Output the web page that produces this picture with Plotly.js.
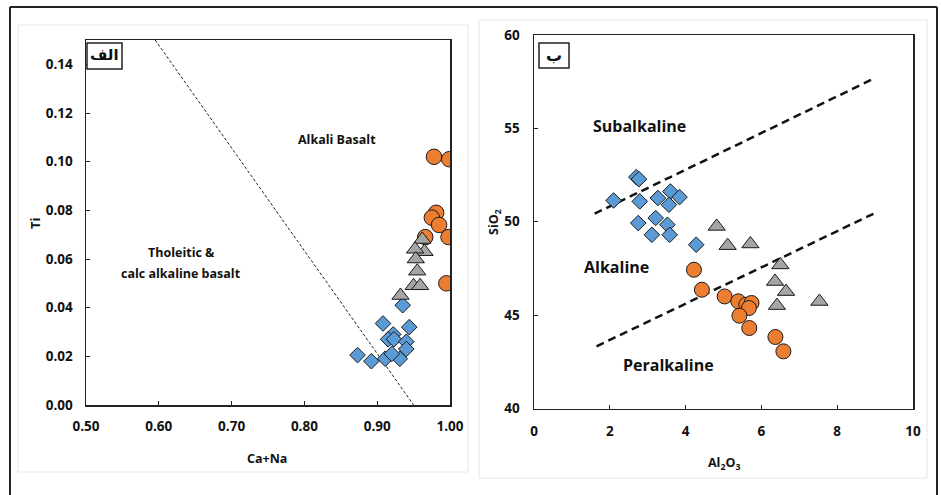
<!DOCTYPE html>
<html><head><meta charset="utf-8">
<script src="https://cdn.plot.ly/plotly-3.0.1.min.js"></script>
<style>html,body{margin:0;padding:0;background:#fff;}#chart{width:941px;height:495px;}</style>
</head><body><div id="chart"></div>
<script>
// Panel A (الف): Ti vs Ca+Na
const circX_A = [0.978, 0.999, 0.981, 0.975, 0.985, 0.998, 0.966, 0.995];
const circY_A = [0.102, 0.101, 0.079, 0.077, 0.074, 0.069, 0.069, 0.050];
const diaX_A = [0.935, 0.908, 0.944, 0.922, 0.915, 0.923, 0.940, 0.940, 0.873, 0.892, 0.911, 0.931, 0.920];
const diaY_A = [0.041, 0.0335, 0.032, 0.029, 0.027, 0.027, 0.026, 0.023, 0.0205, 0.018, 0.019, 0.019, 0.021];
const triX_A = [0.962, 0.965, 0.952, 0.953, 0.955, 0.950, 0.959, 0.932];
const triY_A = [0.068, 0.063, 0.064, 0.060, 0.055, 0.049, 0.049, 0.045];
const divX_A = [0.595, 0.95];
const divY_A = [0.15, 0.0];

// Panel B (ب): SiO2 vs Al2O3
const diaX_B = [2.70, 2.77, 2.10, 2.79, 3.27, 3.60, 3.56, 3.84, 2.75, 3.21, 3.52, 3.11, 3.58, 4.28];
const diaY_B = [52.39, 52.28, 51.14, 51.09, 51.27, 51.62, 50.91, 51.32, 49.93, 50.20, 49.84, 49.30, 49.30, 48.77];
const triX_B = [4.82, 5.11, 5.71, 6.50, 6.36, 6.65, 6.41, 7.53];
const triY_B = [49.75, 48.72, 48.81, 47.69, 46.80, 46.26, 45.51, 45.73];
const circX_B = [4.22, 4.43, 5.03, 5.39, 5.60, 5.74, 5.67, 5.42, 5.68, 6.37, 6.58];
const circY_B = [47.43, 46.36, 46.00, 45.74, 45.56, 45.65, 45.38, 44.97, 44.31, 43.83, 43.06];
const upX_B = [1.6, 8.9];
const upY_B = [50.43, 57.6];
const loX_B = [1.65, 9.0];
const loY_B = [43.33, 50.47];

const W = 941, H = 495;
const px = v => v / W;
const py = v => 1 - v / H;

const ORANGE = '#ED7D31', BLUE = '#5B9BD5', GREY = '#A5A5A5';
const outline = {color: '#1a1a1a', width: 1};
const FONT = '"Open Sans", Lato, sans-serif';

const traces = [
  {x: divX_A, y: divY_A, xaxis: 'x', yaxis: 'y', mode: 'lines', line: {color: '#222', width: 1, dash: '3px,2px'}, hoverinfo: 'skip'},
  {x: circX_A, y: circY_A, xaxis: 'x', yaxis: 'y', mode: 'markers', marker: {symbol: 'circle', size: 15.5, color: ORANGE, line: outline}},
  {x: diaX_A, y: diaY_A, xaxis: 'x', yaxis: 'y', mode: 'markers', marker: {symbol: 'diamond', size: 12, color: BLUE, line: outline}},
  {x: triX_A, y: triY_A, xaxis: 'x', yaxis: 'y', mode: 'markers', marker: {symbol: 'triangle-up', size: 15, color: GREY, line: outline}},
  {x: upX_B, y: upY_B, xaxis: 'x2', yaxis: 'y2', mode: 'lines', line: {color: '#111', width: 2.5, dash: '8px,5px'}, hoverinfo: 'skip'},
  {x: loX_B, y: loY_B, xaxis: 'x2', yaxis: 'y2', mode: 'lines', line: {color: '#111', width: 2.5, dash: '8px,5px'}, hoverinfo: 'skip'},
  {x: circX_B, y: circY_B, xaxis: 'x2', yaxis: 'y2', mode: 'markers', marker: {symbol: 'circle', size: 15, color: ORANGE, line: outline}},
  {x: diaX_B, y: diaY_B, xaxis: 'x2', yaxis: 'y2', mode: 'markers', marker: {symbol: 'diamond', size: 12, color: BLUE, line: outline}},
  {x: triX_B, y: triY_B, xaxis: 'x2', yaxis: 'y2', mode: 'markers', marker: {symbol: 'triangle-up', size: 15, color: GREY, line: outline}}
];

const axBase = {showline: true, mirror: true, linecolor: '#222', linewidth: 1.5, ticks: 'inside', ticklen: 4, tickcolor: '#222', showgrid: false, zeroline: false, tickfont: {family: FONT, size: 13.5, color: '#111', weight: 'bold'}};

const ann = (x, y, text, size, extra) => Object.assign({xref: 'paper', yref: 'paper', x: px(x), y: py(y), text: text, showarrow: false, xanchor: 'center', yanchor: 'middle', font: {family: FONT, size: size, color: '#111', weight: 'bold'}}, extra || {});

const layout = {
  width: W, height: H, margin: {l: 0, r: 0, t: 0, b: 0},
  paper_bgcolor: '#fff', plot_bgcolor: '#fff', showlegend: false,
  xaxis: Object.assign({}, axBase, {domain: [px(86), px(450)], range: [0.5, 1.0], dtick: 0.1, tick0: 0.5, tickformat: '.2f', anchor: 'y', ticklabelstandoff: 8}),
  yaxis: Object.assign({}, axBase, {domain: [py(405), py(40)], range: [0, 0.15], dtick: 0.02, tick0: 0, tickformat: '.2f', anchor: 'x', ticklabelstandoff: 9}),
  xaxis2: Object.assign({}, axBase, {domain: [px(534), px(913)], range: [0, 10], dtick: 2, anchor: 'y2', ticklabelstandoff: 10}),
  yaxis2: Object.assign({}, axBase, {domain: [py(408.5), py(35)], range: [40, 60], dtick: 5, anchor: 'x2', ticklabelstandoff: 10}),
  shapes: [
    // outer frame
    {type: 'line', xref: 'paper', yref: 'paper', x0: px(10), x1: px(10), y0: py(7), y1: -0.05, line: {color: '#222', width: 2}},
    {type: 'line', xref: 'paper', yref: 'paper', x0: px(10), x1: px(937), y0: py(7), y1: py(7), line: {color: '#222', width: 2}},
    {type: 'line', xref: 'paper', yref: 'paper', x0: px(937), x1: px(937), y0: py(7), y1: -0.05, line: {color: '#222', width: 2}},
    // light chart-area borders
    {type: 'rect', xref: 'paper', yref: 'paper', x0: px(18), x1: px(468), y0: py(472), y1: py(25), line: {color: '#e6e6e6', width: 1}},
    {type: 'rect', xref: 'paper', yref: 'paper', x0: px(479), x1: px(927), y0: py(478), y1: py(20), line: {color: '#e6e6e6', width: 1}},
    // panel letter boxes
    {type: 'rect', xref: 'paper', yref: 'paper', x0: px(87), x1: px(122), y0: py(69), y1: py(43), line: {color: '#222', width: 1.5}, fillcolor: '#fff'},
    {type: 'rect', xref: 'paper', yref: 'paper', x0: px(539), x1: px(569), y0: py(68), y1: py(43), line: {color: '#222', width: 1.5}, fillcolor: '#fff'}
  ],
  annotations: [
    ann(104.5, 55, 'الف', 15, {font: {family: '"DejaVu Sans", sans-serif', size: 15, color: '#111', weight: 'bold'}}),
    ann(554, 55, 'ب', 15, {font: {family: '"DejaVu Sans", sans-serif', size: 16, color: '#111', weight: 'bold'}}),
    ann(337, 139, 'Alkali Basalt', 12.5),
    ann(181, 253, 'Tholeitic &', 12.5),
    ann(181, 273, 'calc alkaline basalt', 12.5),
    ann(639, 126, 'Subalkaline', 16),
    ann(616, 267, 'Alkaline', 16),
    ann(668, 365, 'Peralkaline', 16),
    ann(267, 458, 'Ca+Na', 12.5),
    ann(35, 223, 'Ti', 13, {textangle: -90}),
    ann(724, 463, 'Al<sub>2</sub>O<sub>3</sub>', 12.5),
    ann(494, 222, 'SiO<sub>2</sub>', 12.5, {textangle: -90})
  ]
};

Plotly.newPlot('chart', traces, layout, {staticPlot: true, displayModeBar: false});
</script></body></html>
